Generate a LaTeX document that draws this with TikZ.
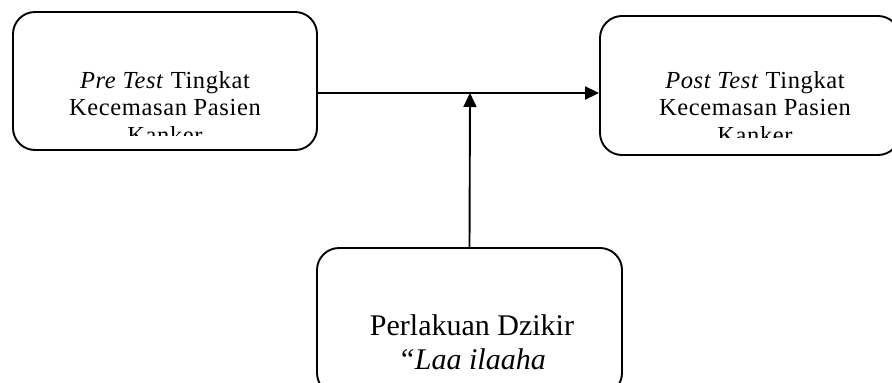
\documentclass[tikz,border=0pt]{standalone}
\usepackage{fontspec}
\setmainfont{Liberation Serif}
\usetikzlibrary{arrows.meta}
\tikzset{
  box/.style={draw, line width=1.9pt, rounded corners=22pt, inner sep=0pt},
  boxtext/.style={align=center, inner sep=0pt, anchor=north},
  smalltext/.style={font=\fontsize{24.5}{27.5}\selectfont\addfontfeature{LetterSpace=2.5}},
  bigtext/.style={font=\fontsize{30}{34}\selectfont}
}

\begin{document}
\begin{tikzpicture}[x=1pt, y=-1pt, >={Triangle[length=14pt,width=13pt]}]
\useasboundingbox (0,0) rectangle (892,383);

\node[box, minimum width=304pt, minimum height=138pt] (pre) at (165,81) {};
\node[box, minimum width=300pt, minimum height=139pt] (post) at (750,85.5) {};
\node[box, minimum width=305pt, minimum height=147pt] (dzikir) at (469.5,321.5) {};

% texts are cut off at the bottom of the boxes
\begin{scope}
  \clip (13,12) rectangle (317,135);
  \node[boxtext, smalltext] (pretext) at (165,71) {\textit{Pre Test} Tingkat\\Kecemasan Pasien\\Kanker};
\end{scope}
\begin{scope}
  \clip (600,16) rectangle (892,137);
  \node[boxtext, smalltext] (posttext) at (755,71) {\textit{Post Test} Tingkat\\Kecemasan Pasien\\Kanker};
\end{scope}
\node[boxtext, bigtext] (dzikirtext) at (472,314) {Perlakuan Dzikir\\\textit{“Laa ilaaha}};

\coordinate (join) at (470,93);
\draw[->, line width=1.9pt] (pre.east |- join) -- (post.west |- join);
\draw[->, line width=1.9pt] (dzikir.north) -- (join);
\end{tikzpicture}
\end{document}
